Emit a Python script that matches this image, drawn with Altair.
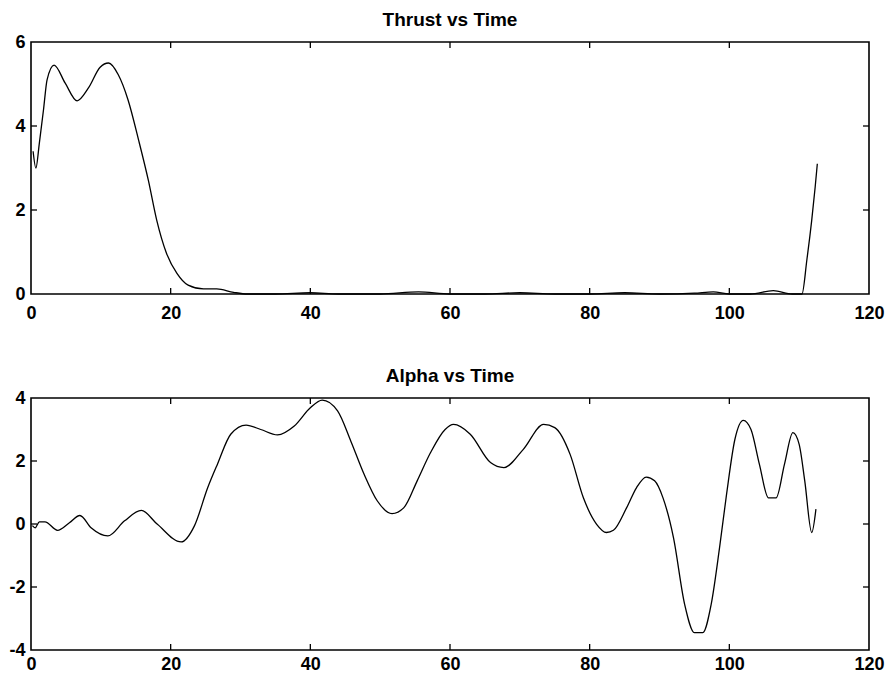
import altair as alt
import pandas as pd

# ---- data ----
thrust_t = [0.3, 0.7, 1.2, 1.8, 2.3, 3.3, 4.9, 6.6, 8.2, 9.9,
            11.1, 12.5, 13.9, 15.4, 16.8, 18.0, 19.4, 20.9, 22.5, 24.7,
            26.6, 29.0, 31.0, 35, 40, 44, 50, 55.5, 60, 65,
            70, 75, 80, 85, 90, 95, 97.7, 100, 103, 106.3,
            109, 110.4, 111.1, 111.8, 112.3, 112.6]
thrust = [3.4, 3.0, 3.6, 4.4, 5.1, 5.45, 5.02, 4.6, 4.9, 5.4,
          5.5, 5.22, 4.62, 3.67, 2.71, 1.76, 0.97, 0.49, 0.21, 0.12,
          0.12, 0.04, 0.0, 0.0, 0.03, 0.0, 0.0, 0.05, 0.0, 0.0,
          0.03, 0.0, 0.0, 0.03, 0.0, 0.02, 0.05, 0.0, 0.0, 0.08,
          0.0, 0.0, 0.81, 1.76, 2.56, 3.1]

alpha_t = [0.2, 0.6, 1.2, 2.0, 3.8, 5.5, 7.0, 8.6, 11.0, 13.4,
           15.8, 18.1, 21.5, 23.4, 25.3, 26.7, 28.6, 30.8, 32.9, 35.3,
           37.7, 40.0, 41.7, 43.9, 45.8, 47.7, 49.6, 51.7, 53.4, 55.3,
           57.2, 59.3, 60.5, 62.9, 65.8, 67.7, 70.5, 73.4, 75.0, 77.2,
           79.1, 81.0, 82.4, 83.4, 85.3, 86.7, 88.1, 89.3, 90.5, 92.0,
           93.6, 95.0, 96.2, 97.4, 98.6, 99.6, 100.8, 102.0, 103.1, 104.3,
           105.6, 106.7, 107.9, 109.1, 110.0, 110.8, 111.8, 112.4]
alpha = [-0.05, -0.12, 0.07, 0.07, -0.2, 0.04, 0.27, -0.12, -0.38, 0.1,
         0.43, -0.01, -0.57, -0.06, 1.15, 1.9, 2.85, 3.14, 3.0, 2.83,
         3.11, 3.69, 3.93, 3.59, 2.63, 1.58, 0.73, 0.33, 0.52, 1.37,
         2.26, 3.0, 3.16, 2.85, 1.95, 1.79, 2.37, 3.16, 3.06, 2.21,
         0.83, -0.01, -0.27, -0.2, 0.52, 1.15, 1.49, 1.37, 0.83, -0.43,
         -2.55, -3.45, -3.45, -2.55, -0.75, 0.94, 2.69, 3.29, 3.0, 1.9,
         0.83, 0.83, 1.9, 2.9, 2.53, 1.37, -0.27, 0.47]

x_ticks = [0, 20, 40, 60, 80, 100, 120]
x_inner_ticks = [20, 40, 60, 80, 100]
thrust_ticks = [0, 2, 4, 6]
thrust_inner_ticks = [2, 4]
alpha_ticks = [-4, -2, 0, 2, 4]
alpha_inner_ticks = [-2, 0, 2]

W, H = 838, 252
TICK = 6
FONT = "Liberation Sans"
LABEL = "'' + datum.value"   # plain hyphen minus, as in the reference


def panel(t, v, ydomain, yticks, yinner, title, xpad):
    df = pd.DataFrame({"t": t, "v": v})
    xs = alt.Scale(domain=[0, 120], nice=False, zero=False)
    ys = alt.Scale(domain=ydomain, nice=False, zero=False)
    xa = alt.Axis(values=x_ticks, title=None, ticks=False, tickSize=0,
                  domain=False, grid=False, labelFlush=False, labelPadding=xpad,
                  labelFont=FONT, labelFontSize=18, labelFontWeight="bold",
                  labelColor="black", labelExpr=LABEL)
    ya = alt.Axis(values=yticks, title=None, ticks=False, tickSize=0,
                  domain=False, grid=False, labelPadding=6, labelFont=FONT,
                  labelFontSize=18, labelFontWeight="bold", labelColor="black",
                  labelExpr=LABEL)
    line = alt.Chart(df).mark_line(
        color="black", strokeWidth=1.3, interpolate="monotone"
    ).encode(
        x=alt.X("t:Q", scale=xs, axis=xa),
        y=alt.Y("v:Q", scale=ys, axis=ya),
    )
    xt = pd.DataFrame({"p": x_inner_ticks})
    yt = pd.DataFrame({"p": yinner})
    rule = dict(color="black", strokeWidth=1.3)
    xb = alt.Chart(xt).mark_rule(**rule).encode(
        x=alt.X("p:Q", scale=xs, axis=xa),
        y=alt.value(H), y2=alt.value(H - TICK))
    xtop = alt.Chart(xt).mark_rule(**rule).encode(
        x=alt.X("p:Q", scale=xs, axis=xa),
        y=alt.value(0), y2=alt.value(TICK))
    yl = alt.Chart(yt).mark_rule(**rule).encode(
        y=alt.Y("p:Q", scale=ys, axis=ya),
        x=alt.value(0), x2=alt.value(TICK))
    yr = alt.Chart(yt).mark_rule(**rule).encode(
        y=alt.Y("p:Q", scale=ys, axis=ya),
        x=alt.value(W - TICK), x2=alt.value(W))
    return alt.layer(line, xb, xtop, yl, yr).properties(
        width=W, height=H,
        title=alt.TitleParams(title, font=FONT, fontSize=19,
                              fontWeight="bold", color="black",
                              anchor="middle", offset=3),
    )


top = panel(thrust_t, thrust, [0, 6], thrust_ticks, thrust_inner_ticks,
            "Thrust vs Time", 10)
bottom = panel(alpha_t, alpha, [-4, 4], alpha_ticks, alpha_inner_ticks,
               "Alpha vs Time", 5)

chart = alt.vconcat(top, bottom, spacing=43).properties(
    padding={"left": 0, "top": 2, "right": 0, "bottom": 0},
    background="white",
).configure_view(stroke="black", strokeWidth=1.6)

chart.save("out.html", embed_options={"renderer": "svg", "actions": False})
